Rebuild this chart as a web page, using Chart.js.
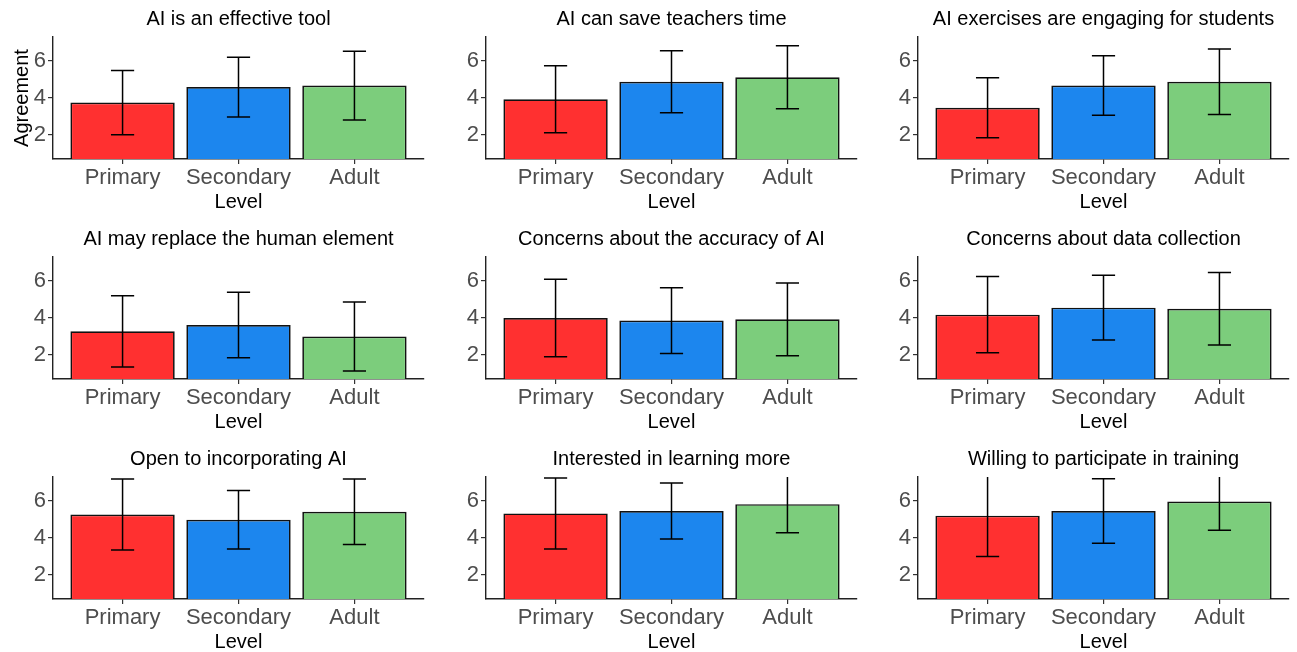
<!DOCTYPE html>
<html lang="en">
<head>
<meta charset="utf-8">
<title>Agreement by level</title>
<script src="https://cdn.jsdelivr.net/npm/chart.js"></script>
<style>
  body { margin: 0; background: #fff; width: 1297px; height: 652px; overflow: hidden; position: relative; }
  canvas { position: absolute; }
</style>
</head>
<body>
<script>
// categories on the x axis
const levels = ['Primary', 'Secondary', 'Adult'];

// one panel per statement
const titles = [
  'AI is an effective tool',
  'AI can save teachers time',
  'AI exercises are engaging for students',
  'AI may replace the human element',
  'Concerns about the accuracy of AI',
  'Concerns about data collection',
  'Open to incorporating AI',
  'Interested in learning more',
  'Willing to participate in training'
];

// mean agreement, per panel: Primary, Secondary, Adult
const means = [
  [3.75, 4.59, 4.67],
  [3.93, 4.88, 5.12],
  [3.47, 4.68, 4.88],
  [3.28, 3.62, 3.00],
  [4.00, 3.86, 3.93],
  [4.18, 4.56, 4.50],
  [5.27, 4.99, 5.42],
  [5.33, 5.46, 5.83],
  [5.21, 5.46, 5.97]
];

// error bar half-length (sd), same layout as means
const sds = [
  [1.74, 1.62, 1.86],
  [1.81, 1.68, 1.70],
  [1.62, 1.61, 1.77],
  [1.93, 1.77, 1.87],
  [2.09, 1.78, 1.97],
  [2.06, 1.75, 1.96],
  [1.92, 1.58, 1.77],
  [1.92, 1.52, 1.54],
  [2.21, 1.74, 1.55]
];

const yTicks = [2, 4, 6];
const colors = ['#FF3030', '#1C86EE', '#7CCD7C'];

const colLeft = [0, 433, 865];
const rowTop = [0, 220, 440];

Chart.defaults.font.family = '"Liberation Sans", Arial, sans-serif';

// mean +/- sd whiskers, clipped to the panel like coord_cartesian
const errorBars = {
  id: 'errorBars',
  afterDatasetsDraw(chart) {
    const { ctx, chartArea, scales: { x, y } } = chart;
    const ds = chart.data.datasets[0];
    ctx.save();
    ctx.beginPath();
    ctx.rect(chartArea.left, chartArea.top, chartArea.right - chartArea.left, chartArea.bottom - chartArea.top);
    ctx.clip();
    ctx.strokeStyle = '#000';
    ctx.lineWidth = 1.5;
    ds.data.forEach((p, i) => {
      const hi = y.getPixelForValue(p.y + ds.sd[i]);
      const lo = y.getPixelForValue(p.y - ds.sd[i]);
      const xc = x.getPixelForValue(p.x);
      const xl = x.getPixelForValue(p.x - 0.1);
      const xr = x.getPixelForValue(p.x + 0.1);
      ctx.beginPath();
      ctx.moveTo(xc, hi); ctx.lineTo(xc, lo);
      ctx.moveTo(xl, hi); ctx.lineTo(xr, hi);
      ctx.moveTo(xl, lo); ctx.lineTo(xr, lo);
      ctx.stroke();
    });
    ctx.restore();
  }
};

titles.forEach((title, k) => {
  const cv = document.createElement('canvas');
  cv.width = 432;
  cv.height = 220;
  cv.style.left = colLeft[k % 3] + 'px';
  cv.style.top = rowTop[Math.floor(k / 3)] + 'px';
  document.body.appendChild(cv);

  new Chart(cv, {
    type: 'bar',
    data: {
      datasets: [{
        data: levels.map((l, i) => ({ x: i + 1, y: means[k][i] })),
        sd: sds[k],
        backgroundColor: colors,
        borderColor: '#111',
        borderWidth: 1.7,
        barPercentage: 0.9,
        categoryPercentage: 1,
        clip: 0
      }]
    },
    options: {
      responsive: false,
      animation: false,
      layout: { padding: { left: 0, right: 8, top: 0, bottom: 6 } },
      plugins: {
        legend: { display: false },
        tooltip: { enabled: false },
        title: {
          display: true,
          text: title,
          fullSize: false,
          color: '#000',
          font: { size: 20, weight: 'normal' },
          padding: { top: 7, bottom: 6 }
        }
      },
      scales: {
        x: {
          type: 'linear',
          min: 0.4,
          max: 3.6,
          offset: false,
          afterBuildTicks: s => { s.ticks = levels.map((l, i) => ({ value: i + 1 })); },
          afterFit: s => { s.height = 55; },
          border: { color: '#222', width: 1.4 },
          grid: { drawOnChartArea: false, offset: false, tickLength: 5, color: '#333', lineWidth: 1.2 },
          ticks: {
            callback: v => levels[v - 1],
            color: '#4D4D4D',
            font: { size: 22 },
            padding: 1,
            maxRotation: 0,
            autoSkip: false
          },
          title: {
            display: true,
            text: 'Level',
            color: '#000',
            font: { size: 20 },
            padding: { top: 0, bottom: 0 }
          }
        },
        y: {
          min: 0.7,
          max: 7.3,
          afterBuildTicks: s => { s.ticks = yTicks.map(v => ({ value: v })); },
          afterFit: s => { s.width = 53; },
          border: { color: '#222', width: 1.4 },
          grid: { drawOnChartArea: false, tickLength: 5, color: '#333', lineWidth: 1.2 },
          ticks: { color: '#4D4D4D', font: { size: 22 }, padding: 2 },
          title: {
            display: k === 0,
            text: 'Agreement',
            color: '#000',
            font: { size: 20 },
            padding: { top: 10, bottom: 0 }
          }
        }
      }
    },
    plugins: [errorBars]
  });
});
</script>
</body>
</html>
